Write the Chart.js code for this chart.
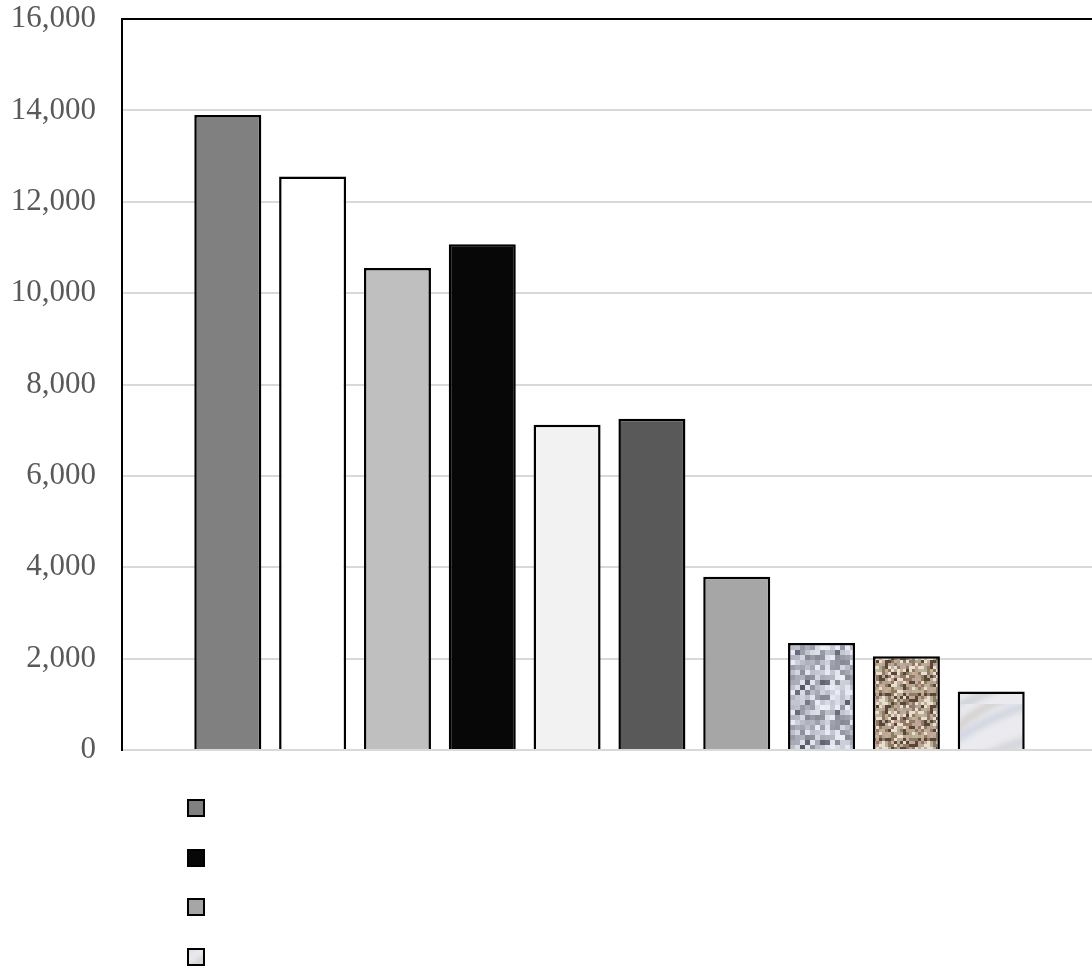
<!DOCTYPE html>
<html>
<head>
<meta charset="utf-8">
<script src="https://cdn.jsdelivr.net/npm/chart.js@4/dist/chart.umd.min.js"></script>
<style>
  html, body { margin:0; padding:0; background:#fff; overflow:hidden; }
  #wrap { position:relative; width:1100px; height:970px; }
  #legend { position:absolute; left:187px; top:799px; margin:0; padding:0; list-style:none; }
  #legend li { height:49.5px; display:flex; align-items:flex-start; }
  #legend .sw { width:14px; height:14px; border:2px solid #000; box-sizing:content-box; background-size:cover; }
</style>
</head>
<body>
<div id="wrap">
  <canvas id="chart"></canvas>
  <ul id="legend"></ul>
</div>
<script>
const categories   = [''];
const seriesLabels = ['Series 1','Series 2','Series 3','Series 4','Series 5','Series 6','Series 7','Series 8','Series 9','Series 10'];
const seriesValues = [13900, 12550, 10550, 11070, 7120, 7250, 3790, 2340, 2050, 1280];
const yTicks       = [0, 2000, 4000, 6000, 8000, 10000, 12000, 14000, 16000];

// seeded noise so the textures come out the same on every run
function rng(seed) {
  return function() {
    seed |= 0; seed = seed + 0x6D2B79F5 | 0;
    let t = Math.imul(seed ^ seed >>> 15, 1 | seed);
    t = t + Math.imul(t ^ t >>> 7, 61 | t) ^ t;
    return ((t ^ t >>> 14) >>> 0) / 4294967296;
  };
}

function makeTile(size, draw) {
  const c = document.createElement('canvas');
  c.width = c.height = size;
  draw(c.getContext('2d'), size);
  return c;
}

const graniteTile = makeTile(60, (g, s) => {
  const r = rng(7);
  for (let y = 0; y < s; y += 5) for (let x = 0; x < s; x += 5) {
    const v = 135 + r() * 100;
    g.fillStyle = `rgb(${v|0},${(v+3)|0},${(v+14)|0})`;
    g.fillRect(x, y, 5, 5);
  }
  for (let i = 0; i < 18; i++) {
    g.fillStyle = r() < .6 ? 'rgba(80,82,95,.75)' : 'rgba(240,242,248,.8)';
    g.fillRect((r()*12|0)*5, (r()*12|0)*5, 5, 5);
  }
});

const speckleTile = makeTile(45, (g, s) => {
  const r = rng(21);
  g.fillStyle = '#b09e8c'; g.fillRect(0, 0, s, s);
  for (let y = 0; y < s; y += 3) for (let x = 0; x < s; x += 3) {
    const k = r();
    if (k < .14) g.fillStyle = '#5a4636';
    else if (k < .3) g.fillStyle = '#eadfce';
    else if (k < .5) g.fillStyle = '#8f7a66';
    else g.fillStyle = `rgb(${172 + r()*30|0},${155 + r()*28|0},${136 + r()*26|0})`;
    g.fillRect(x, y, 3, 3);
  }
});

const marbleTile = makeTile(64, (g, s) => {
  const r = rng(3);
  g.fillStyle = '#ebebef'; g.fillRect(0, 0, s, s);
  g.filter = 'blur(3px)';
  for (let i = 0; i < 7; i++) {
    g.strokeStyle = `rgba(${185 + r()*30|0},${185 + r()*30|0},${200 + r()*25|0},.7)`;
    g.lineWidth = 2 + r() * 5;
    const y0 = r() * s * 1.5;
    g.beginPath();
    g.moveTo(-10, y0);
    g.quadraticCurveTo(s * .5, y0 - 20 - r()*20, s + 10, y0 - 30 - r()*20);
    g.stroke();
  }
  g.filter = 'none';
});

const ctx = document.getElementById('chart').getContext('2d');
const pat = t => ctx.createPattern(t, 'repeat');

const seriesFills = ['#808080', '#ffffff', '#bfbfbf', '#070707', '#f2f2f2', '#595959', '#a6a6a6',
                     pat(graniteTile), pat(speckleTile), pat(marbleTile)];
const swatchCss   = ['#808080', '#ffffff', '#bfbfbf', '#070707', '#f2f2f2', '#595959', '#a6a6a6',
                     `url(${graniteTile.toDataURL()})`, `url(${speckleTile.toDataURL()})`, `url(${marbleTile.toDataURL()})`];

const chart = new Chart(ctx, {
  type: 'bar',
  data: {
    labels: categories,
    datasets: seriesLabels.map((name, i) => ({
      label: name,
      data: [seriesValues[i]],
      backgroundColor: seriesFills[i],
      borderColor: '#000',
      borderWidth: 2.5,
      categoryPercentage: .87,
      barPercentage: .79
    }))
  },
  options: {
    responsive: true, maintainAspectRatio: false, animation: false,
    layout: { padding: { top: 19, right: 3, bottom: 220, left: 0 } },
    plugins: { legend: { display: false }, tooltip: { enabled: false } },
    scales: {
      x: {
        ticks: { display: false },
        grid: { display: false, drawTicks: false },
        border: { color: '#d9d9d9', width: 2 }
      },
      y: {
        min: 0, max: 16000,
        afterBuildTicks: s => { s.ticks = yTicks.map(v => ({ value: v })); },
        afterFit: s => { s.width = 122; },
        ticks: {
          padding: 0, color: '#595959',
          font: { family: '"Liberation Serif", "Times New Roman", serif', size: 31, lineHeight: 1 },
          callback: v => v.toLocaleString('en-US')
        },
        grid: {
          drawTicks: true, tickLength: 26, tickColor: 'rgba(0,0,0,0)',
          color: c => c.tick && c.tick.value === 16000 ? '#000' : '#d9d9d9',
          lineWidth: 2
        },
        border: { color: '#000', width: 2 }
      }
    }
  }
});

// legend: only the first column of the original legend is visible
const legend = document.getElementById('legend');
legend.innerHTML = seriesLabels.map((name, i) => i % 3 === 0
  ? `<li><span class="sw" title="${name}" style="background:${swatchCss[i]}"></span></li>` : '').join('');
</script>
</body>
</html>
